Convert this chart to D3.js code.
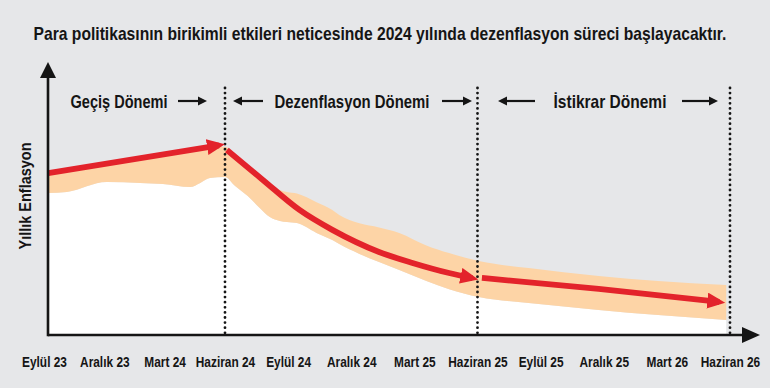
<!DOCTYPE html>
<html><head><meta charset="utf-8">
<script src="https://cdn.jsdelivr.net/npm/d3@7"></script>
<style>body{margin:0;background:#e6e7e9}svg{display:block}</style>
</head><body>
<svg id="c" width="770" height="388"></svg>
<script>
// ---------- data ----------
const title = "Para politikasının birikimli etkileri neticesinde 2024 yılında dezenflasyon süreci başlayacaktır.";
const yLabel = "Yıllık Enflasyon";
const tickLabels = ["Eylül 23","Aralık 23","Mart 24","Haziran 24","Eylül 24","Aralık 24","Mart 25","Haziran 25","Eylül 25","Aralık 25","Mart 26","Haziran 26"];
const periodNames = ["Geçiş Dönemi","Dezenflasyon Dönemi","İstikrar Dönemi"];
const periodBounds = [3, 7, 11]; // Haziran 24, Haziran 25, Haziran 26

// band (x in quarter index, values in relative inflation units 0-100)
const bandX     = [0.07,0.38,1.04,1.59,1.97,2.42,2.59,2.75,3.0,3.16,3.36,3.55,3.71,3.87,3.98,4.14,4.45,4.70,4.81,5.13,5.44,5.76,6.19,6.55,7.02,7.81,8.92,9.86,10.94];
const bandUpper = [59.3,60.4,62.8,64.8,66.2,67.8,68.4,69.0,69.0,65.8,61.9,58.2,55.5,53.1,52.4,51.8,48.6,45.8,44.0,40.9,39.4,37.4,32.8,30.0,27.1,24.5,21.6,19.8,18.3];
const bandLower = [52.0,52.4,56.0,55.7,55.3,54.2,55.7,57.5,57.9,54.6,50.9,46.5,43.2,41.8,41.4,41.0,37.4,34.8,33.3,29.7,26.7,23.8,19.8,16.8,13.9,11.7,9.2,7.3,5.5];

// red projection path, three segments
const seg1X = [0.07, 2.9],  seg1Y = [59.3, 69.5];
const seg2X = [3.03, 3.60, 4.18, 4.70, 5.44, 5.97, 6.55, 6.92];
const seg2Y = [67.8, 56.8, 45.8, 38.5, 30.4, 26.4, 22.7, 20.8];
const seg3X = [7.07, 8.92, 10.83], seg3Y = [20.9, 16.9, 12.1];

// ---------- layout ----------
const svg = d3.select("#c");
const W = 770, H = 388;
const axisX0 = 48, axisY0 = 335, axisTop = 62, axisRight = 760;
const x = d3.scaleLinear().domain([0, 3, 11]).range([44, 225, 730]);
const y = d3.scaleLinear().domain([0, 100]).range([axisY0, axisTop]);
const FONT = "'Liberation Sans', Arial, sans-serif";
const INK = "#151515";
const RED = "#e3232b", BAND = "#fdd4a6", BG = "#e6e7e9";

svg.append("rect").attr("width", W).attr("height", H).attr("fill", BG);

// condensed text helper: squeeze horizontally to a target width
function condensed(parent, str, cx, cy, size, targetW, rotate) {
  const t = parent.append("text").attr("text-anchor", "middle")
    .attr("font-family", FONT).attr("font-weight", "bold").attr("font-size", size)
    .attr("fill", INK).text(str);
  const w = t.node().getComputedTextLength();
  const s = targetW / w;
  t.attr("transform", `translate(${cx},${cy})${rotate ? ` rotate(${rotate})` : ""} scale(${s},1)`);
  return t;
}

// title
condensed(svg, title, 380, 40, 18, 693);

const pts = (xs, ys) => xs.map((d, i) => [d, ys[i]]);

// white area under band
const bandData = bandX.map((d, i) => ({x: d, u: bandUpper[i], l: bandLower[i]}));
svg.append("path").datum(bandData)
  .attr("d", d3.area().x(d => x(d.x)).y0(y(0)).y1(d => y(d.l)).curve(d3.curveMonotoneX))
  .attr("fill", "#ffffff");
// band
svg.append("path").datum(bandData)
  .attr("d", d3.area().x(d => x(d.x)).y0(d => y(d.l)).y1(d => y(d.u)).curve(d3.curveMonotoneX))
  .attr("fill", BAND);

// dotted period lines
svg.selectAll("line.div").data(periodBounds).join("line").attr("class", "div")
  .attr("x1", d => x(d)).attr("x2", d => x(d)).attr("y1", 88).attr("y2", axisY0 - 2)
  .attr("stroke", INK).attr("stroke-width", 2.8).attr("stroke-linecap", "round")
  .attr("stroke-dasharray", "0 5.1");

// red arrow marker
const defs = svg.append("defs");
defs.append("marker").attr("id", "redhead").attr("markerUnits", "userSpaceOnUse")
  .attr("markerWidth", 20).attr("markerHeight", 18).attr("refX", 12).attr("refY", 8)
  .attr("orient", "auto")
  .append("path").attr("d", "M0,0 L18,8 L0,16 Z").attr("fill", RED);

const line = d3.line().x(d => x(d[0])).y(d => y(d[1])).curve(d3.curveMonotoneX);
[[seg1X, seg1Y], [seg2X, seg2Y], [seg3X, seg3Y]].forEach(([xs, ys]) => {
  svg.append("path").datum(pts(xs, ys)).attr("d", line)
    .attr("fill", "none").attr("stroke", RED).attr("stroke-width", 5.8)
    .attr("marker-end", "url(#redhead)");
});

// axes with arrowheads
svg.append("line").attr("x1", axisX0).attr("x2", 746).attr("y1", axisY0).attr("y2", axisY0)
  .attr("stroke", INK).attr("stroke-width", 2.6);
svg.append("line").attr("x1", axisX0).attr("x2", axisX0).attr("y1", axisY0 + 1.3).attr("y2", 74)
  .attr("stroke", INK).attr("stroke-width", 2.6);
svg.append("path").attr("d", `M${axisRight},${axisY0} L742,${axisY0 - 8} L742,${axisY0 + 8} Z`).attr("fill", INK);
svg.append("path").attr("d", `M${axisX0},${axisTop} L${axisX0 - 8},78 L${axisX0 + 8},78 Z`).attr("fill", INK);

// x tick labels
const gx = svg.append("g").attr("transform", `translate(0,${axisY0})`)
  .call(d3.axisBottom(x).tickValues(d3.range(tickLabels.length)).tickFormat(i => tickLabels[i]).tickSize(0).tickPadding(32));
gx.select(".domain").remove();
gx.selectAll("text").attr("font-family", FONT).attr("font-weight", "bold").attr("font-size", 14.5)
  .attr("fill", INK).attr("dy", "0").attr("transform", "scale(0.82,1)");

// y label
condensed(svg, yLabel, 31, 196, 16, 107, -90);

// period annotations
const annLayout = [
  {cx: 119, w: 97,  left: null,      right: [178, 207]},
  {cx: 352, w: 155, left: [263, 233], right: [442, 472]},
  {cx: 610, w: 113, left: [535, 498], right: [682, 718]}
];
const annY = 101;
periodNames.forEach((name, i) => {
  const a = annLayout[i];
  condensed(svg, name, a.cx, annY + 6.5, 17.5, a.w);
  [a.left, a.right].forEach(seg => {
    if (!seg) return;
    const [x0, x1] = seg, dir = Math.sign(x1 - x0);
    svg.append("line").attr("x1", x0).attr("x2", x1 - dir * 6).attr("y1", annY).attr("y2", annY)
      .attr("stroke", INK).attr("stroke-width", 2.2);
    svg.append("path").attr("d", `M${x1},${annY} L${x1 - dir * 9},${annY - 4.5} L${x1 - dir * 9},${annY + 4.5} Z`).attr("fill", INK);
  });
});
</script>
</body></html>
